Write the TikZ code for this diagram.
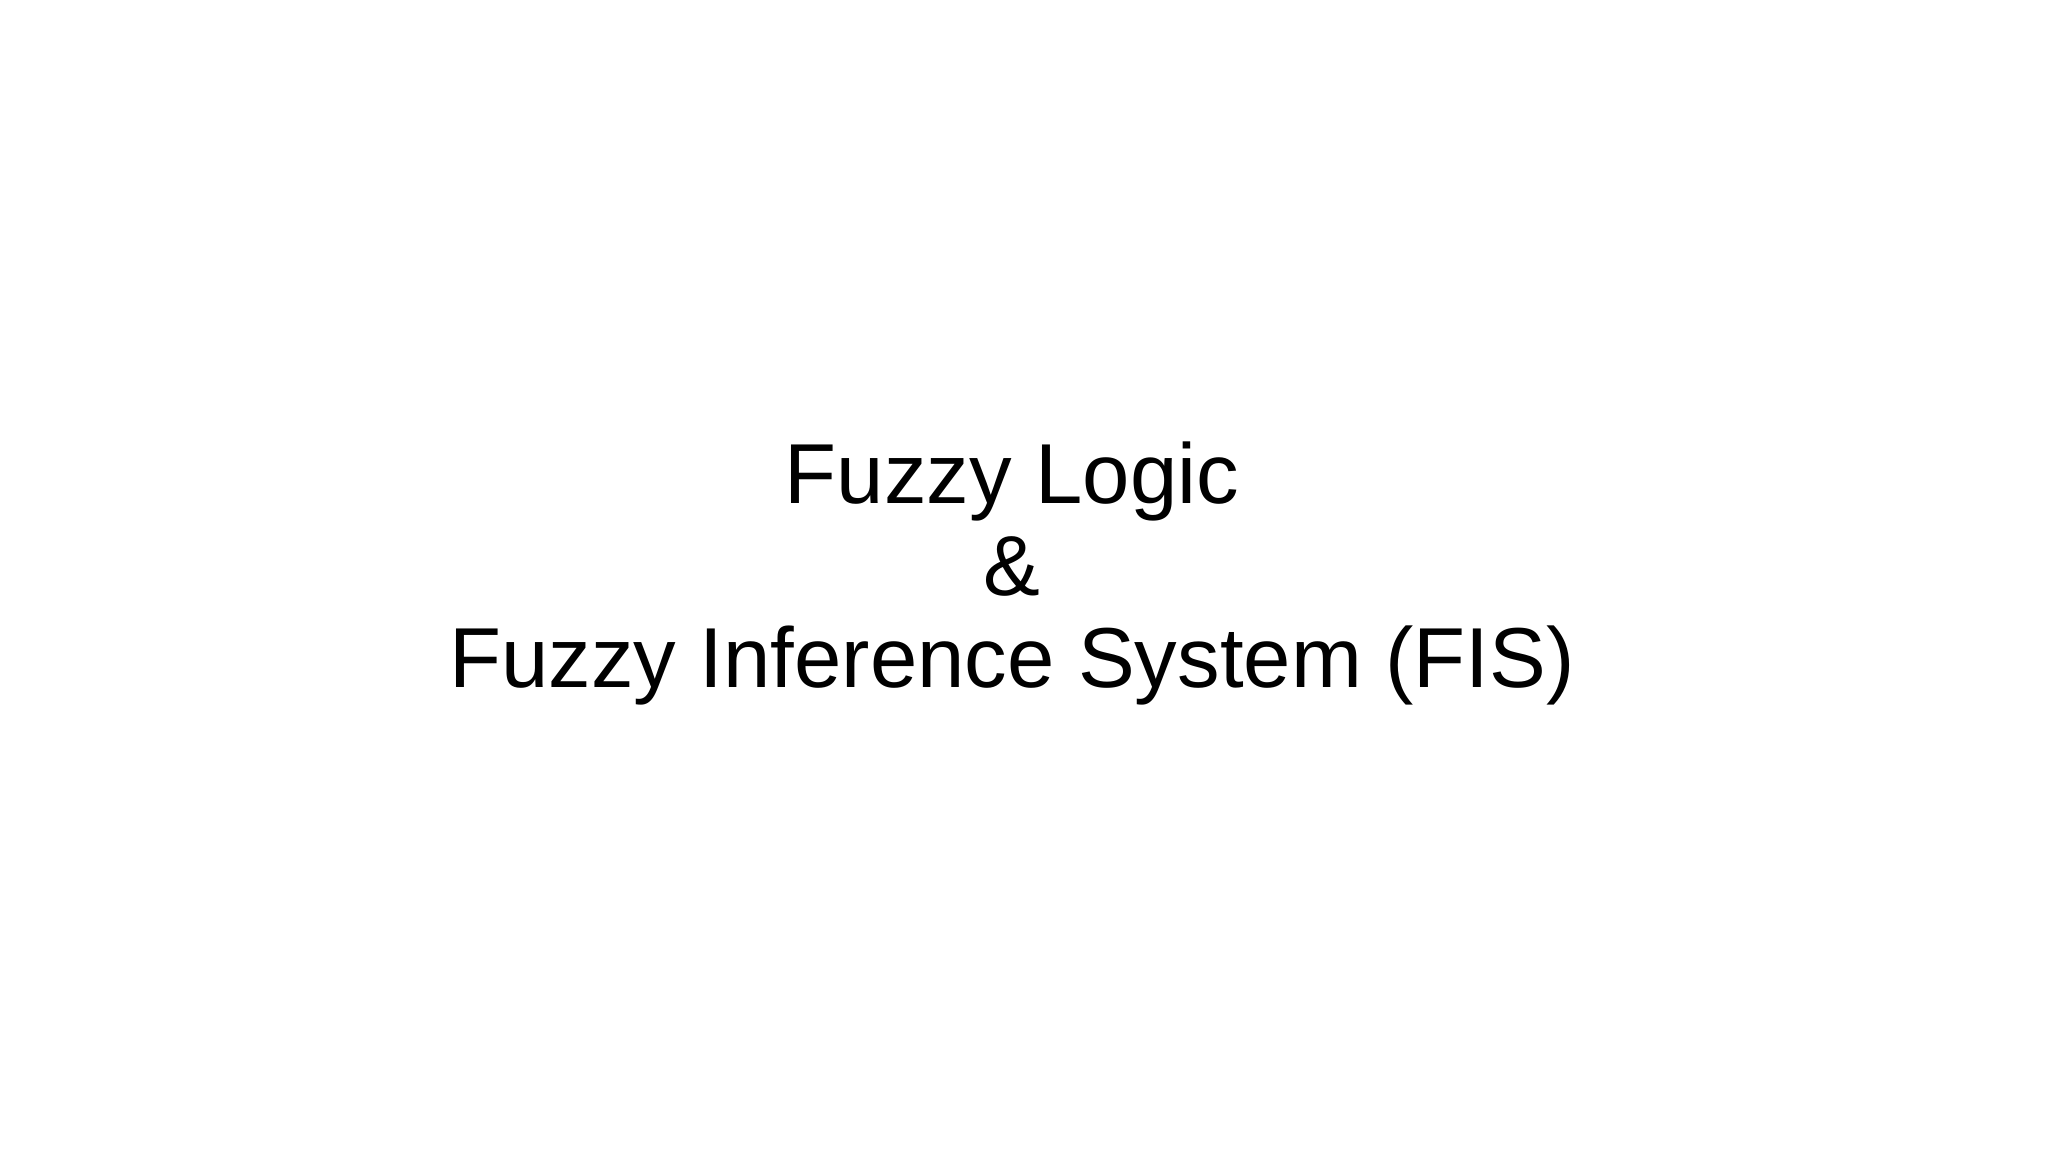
\documentclass[tikz,border=0pt]{standalone}
\usepackage{fontspec}
\setmainfont{Liberation Sans}
\begin{document}
\begin{tikzpicture}[x=0.01cm,y=0.01cm]
\tikzset{titletext/.style={align=center,font=\fontsize{24.2pt}{26.3pt}\selectfont,inner sep=0pt}}
\useasboundingbox[fill=white] (0,0) rectangle (2048,1152);
\node[titletext,anchor=base] (title) at (1012,464) {Fuzzy Logic\\\&\\Fuzzy Inference System (FIS)};
\end{tikzpicture}
\end{document}
